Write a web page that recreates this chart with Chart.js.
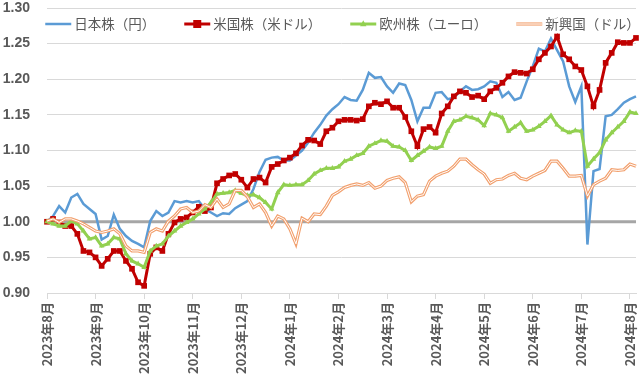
<!DOCTYPE html>
<html lang="ja">
<head>
<meta charset="utf-8">
<title>株価指数の推移</title>
<script src="https://cdn.jsdelivr.net/npm/chart.js@4.4.1/dist/chart.umd.min.js"></script>
<style>
  html, body { margin: 0; padding: 0; background: #fff; }
  #wrap { width: 640px; height: 383px; position: relative; }
</style>
</head>
<body>
<div id="wrap"><canvas id="chart"></canvas></div>
<script>
// 2023年8月初 = 1.00 とした指数。1か月を8点で読み取り
const monthLabels = ['2023年8月', '2023年9月', '2023年10月', '2023年11月', '2023年12月',
  '2024年1月', '2024年2月', '2024年3月', '2024年4月', '2024年5月', '2024年6月', '2024年7月', '2024年8月'];
const pointsPerMonth = 8;
const seriesNames = ['日本株（円）', '米国株（米ドル）', '欧州株（ユーロ）', '新興国（ドル）'];

const japan = [
  1.000, 1.008, 1.022, 1.013, 1.034, 1.039, 1.025, 1.018, 1.011, 0.975,
  0.980, 1.010, 0.990, 0.980, 0.973, 0.969, 0.964, 1.001, 1.015, 1.008,
  1.013, 1.029, 1.027, 1.029, 1.027, 1.029, 1.018, 1.013,
  1.008, 1.012, 1.011, 1.019, 1.024, 1.029, 1.046, 1.070, 1.087, 1.090,
  1.091, 1.086, 1.086, 1.093, 1.100, 1.111, 1.125, 1.136, 1.149, 1.158, 1.165, 1.175,
  1.171, 1.170, 1.185, 1.209, 1.202, 1.203, 1.190, 1.181, 1.194, 1.192, 1.171, 1.141, 1.160,
  1.160, 1.181, 1.182, 1.172, 1.174, 1.183, 1.190, 1.185, 1.186, 1.190, 1.197, 1.195,
  1.175, 1.182, 1.171, 1.174, 1.197, 1.218, 1.243, 1.239, 1.257, 1.241, 1.225, 1.190,
  1.168, 1.190, 0.968, 1.071, 1.074, 1.148, 1.150, 1.158, 1.167, 1.172, 1.176
];
const us = [
  1.000, 1.004, 0.999, 0.994, 0.994, 0.983, 0.959, 0.957, 0.950, 0.938,
  0.948, 0.959, 0.959, 0.945, 0.934, 0.915, 0.910, 0.955, 0.964, 0.959,
  0.983, 0.999, 1.004, 1.006, 1.013, 1.021, 1.015, 1.020,
  1.054, 1.060, 1.065, 1.067, 1.059, 1.048, 1.060, 1.062, 1.055, 1.077,
  1.081, 1.086, 1.090, 1.096, 1.107, 1.115, 1.114, 1.109, 1.127, 1.132, 1.141, 1.143,
  1.143, 1.142, 1.144, 1.162, 1.167, 1.165, 1.169, 1.160, 1.160, 1.147, 1.127, 1.106, 1.130,
  1.133, 1.125, 1.152, 1.162, 1.176, 1.183, 1.181, 1.175, 1.177, 1.172, 1.183, 1.188,
  1.195, 1.204, 1.210, 1.209, 1.208, 1.214, 1.228, 1.237, 1.246, 1.260, 1.235, 1.228,
  1.218, 1.213, 1.190, 1.162, 1.185, 1.223, 1.237, 1.252, 1.251, 1.251, 1.258
];
const europe = [
  1.000, 0.997, 0.994, 0.994, 1.001, 0.997, 0.987, 0.976, 0.978, 0.966,
  0.969, 0.978, 0.976, 0.955, 0.945, 0.941, 0.936, 0.959, 0.966, 0.969,
  0.980, 0.987, 0.994, 0.999, 1.004, 1.011, 1.018, 1.027,
  1.039, 1.040, 1.041, 1.044, 1.040, 1.037, 1.038, 1.034, 1.027, 1.018,
  1.041, 1.052, 1.051, 1.052, 1.052, 1.058, 1.067, 1.072, 1.075, 1.075, 1.077, 1.085,
  1.088, 1.093, 1.096, 1.106, 1.110, 1.114, 1.113, 1.106, 1.105, 1.100, 1.086, 1.093, 1.099,
  1.105, 1.103, 1.106, 1.127, 1.141, 1.143, 1.148, 1.146, 1.143, 1.135, 1.152, 1.150,
  1.146, 1.127, 1.133, 1.139, 1.127, 1.129, 1.134, 1.141, 1.149, 1.136, 1.129, 1.125,
  1.128, 1.127, 1.078, 1.088, 1.097, 1.115, 1.125, 1.133, 1.141, 1.154, 1.152
];
const emerging = [
  1.001, 1.004, 0.999, 1.004, 1.004, 1.001, 0.997, 0.992, 0.987, 0.985,
  0.987, 0.990, 0.983, 0.966, 0.959, 0.959, 0.957, 0.985, 0.990, 0.987,
  1.001, 1.008, 1.018, 1.020, 1.013, 1.015, 1.024, 1.020,
  1.032, 1.020, 1.025, 1.044, 1.044, 1.035, 1.020, 1.025, 1.013, 0.994,
  1.008, 1.004, 0.990, 0.969, 1.005, 1.000, 1.011, 1.010, 1.022, 1.037, 1.042, 1.048,
  1.051, 1.053, 1.051, 1.055, 1.047, 1.050, 1.058, 1.061, 1.063, 1.055, 1.028, 1.036, 1.038,
  1.057, 1.064, 1.068, 1.071, 1.078, 1.088, 1.088, 1.080, 1.073, 1.067, 1.054, 1.059,
  1.060, 1.065, 1.068, 1.061, 1.059, 1.064, 1.068, 1.072, 1.085, 1.085, 1.075, 1.064,
  1.064, 1.065, 1.036, 1.052, 1.057, 1.061, 1.073, 1.072, 1.073, 1.081, 1.078
];

const yTicks = [0.90, 0.95, 1.00, 1.05, 1.10, 1.15, 1.20, 1.25, 1.30];
const baseLine = 1.00;

const textColor = '#595959';
const gridColor = '#D9D9D9';
const cjkFont = '"Noto Sans CJK JP", "Noto Sans", sans-serif';
const numFont = '"Liberation Sans", Arial, sans-serif';

// 1.00 の基準線（系列の下に描く）
const baseLinePlugin = {
  id: 'baseLine',
  beforeDatasetsDraw(chart) {
    const { ctx, chartArea, scales } = chart;
    const y = scales.y.getPixelForValue(baseLine);
    ctx.save();
    ctx.strokeStyle = '#A6A6A6';
    ctx.lineWidth = 3;
    ctx.beginPath();
    ctx.moveTo(chartArea.left, y);
    ctx.lineTo(chartArea.right, y);
    ctx.stroke();
    ctx.restore();
  }
};

function drawSample(ctx, ds, x, y, w) {
  ctx.lineWidth = ds.borderWidth;
  ctx.strokeStyle = ds.borderColor;
  ctx.beginPath();
  ctx.moveTo(x, y);
  ctx.lineTo(x + w, y);
  ctx.stroke();
  if (ds.legendInner) {
    ctx.lineWidth = 1;
    ctx.strokeStyle = ds.legendInner;
    ctx.beginPath();
    ctx.moveTo(x, y);
    ctx.lineTo(x + w, y);
    ctx.stroke();
  }
  const cx = x + w / 2;
  const r = ds.pointRadius || 0;
  ctx.fillStyle = ds.backgroundColor;
  if (ds.pointStyle === 'rect' && r) {
    ctx.fillRect(cx - r, y - r, r * 2, r * 2);
  } else if (ds.pointStyle === 'triangle' && r) {
    ctx.beginPath();
    ctx.moveTo(cx, y - r * 1.2);
    ctx.lineTo(cx + r, y + r * 0.7);
    ctx.lineTo(cx - r, y + r * 0.7);
    ctx.closePath();
    ctx.fill();
  }
}

// 凡例（グラフ領域の上部に重ねる）
const legendPlugin = {
  id: 'topLegend',
  afterDraw(chart) {
    const { ctx, chartArea } = chart;
    const items = chart.data.datasets.filter(d => d.inLegend !== false);
    ctx.save();
    ctx.font = '13.5px ' + cjkFont;
    const sample = 26, textGap = 3, itemGap = 29;
    const widths = items.map(d => sample + textGap + ctx.measureText(d.label).width);
    const total = widths.reduce((a, b) => a + b, 0) + itemGap * (items.length - 1);
    let x = (chartArea.left + chartArea.right) / 2 - total / 2 + 1;
    const y = chartArea.top + 16;
    items.forEach((d, i) => {
      drawSample(ctx, d, x, y, sample);
      ctx.fillStyle = textColor;
      ctx.textBaseline = 'middle';
      ctx.textAlign = 'left';
      ctx.fillText(d.label, x + sample + textGap, y);
      x += widths[i] + itemGap;
    });
    ctx.restore();
  }
};

new Chart(document.getElementById('chart'), {
  type: 'line',
  data: {
    labels: japan.map((_, i) => i),
    datasets: [
      { label: seriesNames[0], data: japan, borderColor: '#5B9BD5', backgroundColor: '#5B9BD5',
        borderWidth: 2.5, pointRadius: 0, order: 4 },
      { label: seriesNames[1], data: us, borderColor: '#C00000', backgroundColor: '#C00000',
        borderWidth: 3, pointStyle: 'rect', pointRadius: 4, pointBorderWidth: 0, order: 3 },
      { label: seriesNames[2], data: europe, borderColor: '#92D050', backgroundColor: '#92D050',
        borderWidth: 3, pointStyle: 'triangle', pointRadius: 3.2, pointBorderWidth: 0, order: 2 },
      { label: seriesNames[3], data: emerging, borderColor: '#F2A06E', backgroundColor: '#F2A06E',
        borderWidth: 3.2, pointRadius: 0, order: 1, legendInner: '#FFFFFF' },
      { label: '', data: emerging, borderColor: '#FFFFFF', borderWidth: 1, pointRadius: 0,
        order: 0, inLegend: false }
    ]
  },
  options: {
    responsive: true,
    maintainAspectRatio: false,
    animation: false,
    events: [],
    layout: { padding: { left: 2, right: 4, top: 8, bottom: 0 } },
    elements: { line: { tension: 0 } },
    plugins: {
      legend: { display: false },
      tooltip: { enabled: false }
    },
    scales: {
      x: {
        type: 'category',
        offset: false,
        grid: { drawOnChartArea: false, drawTicks: true, tickLength: 6, color: gridColor },
        border: { display: true, color: gridColor, width: 1 },
        afterBuildTicks: axis => {
          axis.ticks = axis.ticks.filter(t => t.value % pointsPerMonth === 0);
        },
        afterFit: axis => {
          axis.height = 90;
          axis.paddingLeft = 0;
          axis.paddingRight = 0;
        },
        ticks: {
          autoSkip: false,
          minRotation: 90,
          maxRotation: 90,
          padding: 3,
          color: textColor,
          font: { family: cjkFont, size: 13, weight: 'bold' },
          callback: v => monthLabels[v / pointsPerMonth]
        }
      },
      y: {
        min: yTicks[0],
        max: yTicks[yTicks.length - 1],
        afterBuildTicks: axis => {
          axis.ticks = yTicks.map(v => ({ value: v }));
        },
        afterFit: axis => {
          axis.width = 45;
          axis.paddingTop = 0;
          axis.paddingBottom = 0;
        },
        grid: { color: gridColor, drawTicks: false },
        border: { display: false },
        ticks: {
          padding: 17,
          color: textColor,
          font: { family: numFont, size: 14, weight: 'bold' },
          callback: v => v.toFixed(2)
        }
      }
    }
  },
  plugins: [baseLinePlugin, legendPlugin]
});
</script>
</body>
</html>
